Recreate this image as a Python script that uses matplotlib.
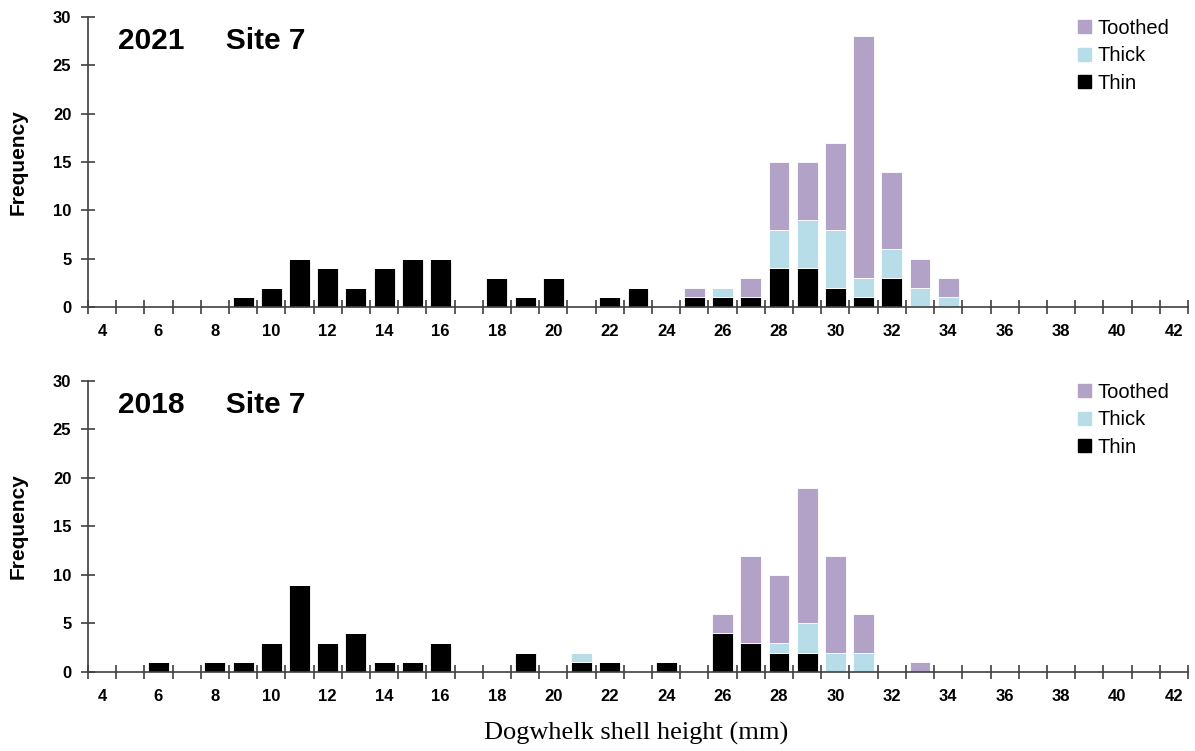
#!/usr/bin/env python3
"""
Dogwhelk shell height frequency, site 7, 2021 vs 2018 (stacked by morph).
"""

# %% load libraries
import numpy as np
import matplotlib
matplotlib.use('Agg')
import matplotlib.pyplot as plt
from matplotlib.patches import Patch
from matplotlib.ticker import FixedLocator


# %% data

# shell height classes (mm)
heights = list(range(4, 43))

# 2021 counts per height class
thin_2021 = {9: 1, 10: 2, 11: 5, 12: 4, 13: 2, 14: 4, 15: 5, 16: 5, 18: 3,
             19: 1, 20: 3, 22: 1, 23: 2, 25: 1, 26: 1, 27: 1, 28: 4, 29: 4,
             30: 2, 31: 1, 32: 3}
thick_2021 = {26: 1, 28: 4, 29: 5, 30: 6, 31: 2, 32: 3, 33: 2, 34: 1}
toothed_2021 = {25: 1, 27: 2, 28: 7, 29: 6, 30: 9, 31: 25, 32: 8, 33: 3,
                34: 2}

# 2018 counts per height class
thin_2018 = {6: 1, 8: 1, 9: 1, 10: 3, 11: 9, 12: 3, 13: 4, 14: 1, 15: 1,
             16: 3, 19: 2, 21: 1, 22: 1, 24: 1, 26: 4, 27: 3, 28: 2, 29: 2}
thick_2018 = {21: 1, 28: 1, 29: 3, 30: 2, 31: 2}
toothed_2018 = {26: 2, 27: 9, 28: 7, 29: 14, 30: 10, 31: 4, 33: 1}

panels = [('2021     Site 7', thin_2021, thick_2021, toothed_2021),
          ('2018     Site 7', thin_2018, thick_2018, toothed_2018)]

# colours
c_thin = 'black'
c_thick = '#B7DEE8'
c_toothed = '#B3A2C7'
c_axis = '#404040'


# %% plot

fig = plt.figure(figsize=(11.95, 7.51), dpi=100)
# --+ axes rectangles (fig fraction)
rects = [[0.0736, 0.5912, 0.9205, 0.3862],
         [0.0736, 0.1052, 0.9205, 0.3875]]

x = np.array(heights)
bold = dict(family='Liberation Sans', weight='bold')

for rect, (title, thin, thick, toothed) in zip(rects, panels):
    ax = fig.add_axes(rect)
    # --+ series
    y_thin = np.array([thin.get(h, 0) for h in heights])
    y_thick = np.array([thick.get(h, 0) for h in heights])
    y_tooth = np.array([toothed.get(h, 0) for h in heights])
    # --+ stacked bars
    ax.bar(x, y_thin, width=0.74, color=c_thin, edgecolor='white', lw=0.6)
    ax.bar(x, y_thick, width=0.74, bottom=y_thin, color=c_thick,
           edgecolor='white', lw=0.6)
    ax.bar(x, y_tooth, width=0.74, bottom=y_thin + y_thick, color=c_toothed,
           edgecolor='white', lw=0.6)
    # --+ axis properties
    ax.set_xlim(3.5, 42.5)
    ax.set_ylim(0, 30)
    for s in ['top', 'right']:
        ax.spines[s].set_visible(False)
    for s in ['left', 'bottom']:
        ax.spines[s].set_color(c_axis)
        ax.spines[s].set_linewidth(1.2)
    ax.set_yticks(range(0, 31, 5))
    ax.set_xticks(heights[::2])
    ax.xaxis.set_minor_locator(FixedLocator(np.arange(3.5, 43, 1.0)))
    ax.tick_params(axis='x', which='major', length=0, pad=12)
    ax.tick_params(axis='x', which='minor', direction='inout', length=10,
                   width=1.2, color=c_axis)
    ax.tick_params(axis='y', direction='inout', length=10, width=1.2,
                   color=c_axis, pad=7)
    for lab in ax.get_xticklabels() + ax.get_yticklabels():
        lab.set_fontfamily('Liberation Sans')
        lab.set_fontweight('bold')
        lab.set_fontsize(12)
    ax.set_ylabel('Frequency', fontsize=15, labelpad=18, **bold)
    # --+ panel title
    ax.text(0.027, 0.965, title, transform=ax.transAxes, fontsize=21.5,
            va='top', ha='left', **bold)
    # --+ legend
    handles = [Patch(color=c_toothed, label='Toothed'),
               Patch(color=c_thick, label='Thick'),
               Patch(color=c_thin, label='Thin')]
    ax.legend(handles=handles, loc='upper left',
              bbox_to_anchor=(0.884, 1.056), frameon=False,
              handlelength=0.62, handleheight=0.62, handletextpad=0.3,
              labelspacing=0.42,
              prop=dict(family='Liberation Sans', size=14.5))

# x label
fig.text(0.532, 0.008, 'Dogwhelk shell height (mm)', ha='center',
         va='bottom', fontsize=19, family='Liberation Serif')

# %% save plot
plt.savefig('out.png', dpi=100)
